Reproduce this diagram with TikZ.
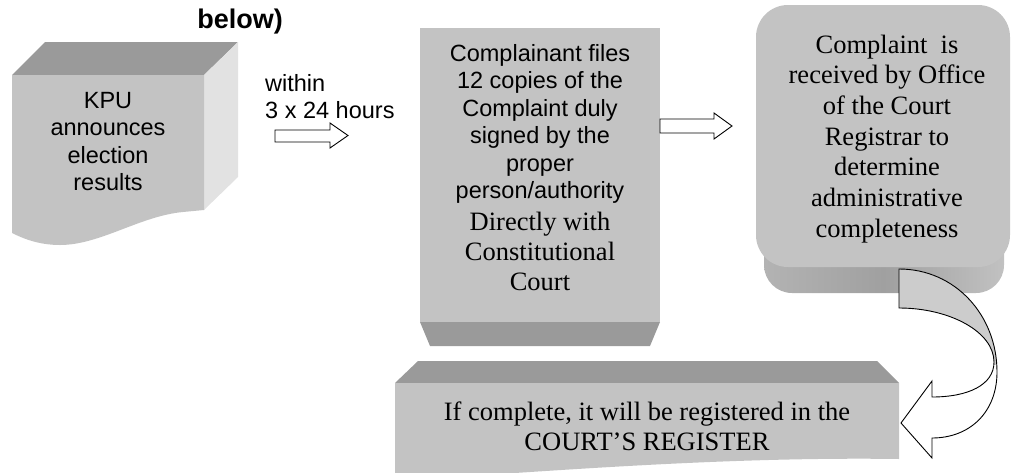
\documentclass[tikz,border=0pt]{standalone}
\usepackage{fontspec}
\setmainfont{Liberation Serif}
\newfontfamily\arialfam{Liberation Sans}
\definecolor{facegray}{HTML}{C3C3C3}
\definecolor{topgray}{HTML}{9A9A9A}
\definecolor{sidegray}{HTML}{E2E2E2}
\definecolor{bandgray}{HTML}{A0A0A0}
\definecolor{arrowgray}{HTML}{CCCCCC}
\newcommand\sanstxt{\arialfam\fontsize{23.5}{27.5}\selectfont}
\newcommand\sanssmall{\arialfam\fontsize{23.5}{27}\selectfont}
\newcommand\seriftxt{\fontsize{26.5}{30}\selectfont}
\newcommand\seriftall{\fontsize{26.5}{30.7}\selectfont}
\begin{document}
\begin{tikzpicture}[x=1pt,y=-1pt,
  face/.style={fill=facegray,draw=none},
  topface/.style={fill=topgray,draw=none},
  sideface/.style={fill=sidegray,draw=none},
  blockarrow/.style={draw=black,line width=0.9pt,fill=white,line join=miter},
  txt/.style={inner sep=0pt,anchor=base}]
\useasboundingbox (0,0) rectangle (1012,472);

% title fragment
\node[txt,font=\arialfam\bfseries\fontsize{27}{30}\selectfont] (title) at (240,28) {below)};

% KPU box
\fill[topface] (12,75) -- (45,42) -- (238,42) -- (204,75) -- cycle;
\fill[sideface] (204,75) -- (238,42) -- (238,177) -- (204,210) -- cycle;
\fill[face] (12,75) -- (204,75) -- (204,210) -- (183,212)
  .. controls (140,216) and (100,245) .. (60,245)
  .. controls (38,245) and (22,238) .. (12,233) -- cycle;
\node[txt,font=\sanstxt] (kpu) at (108,108)
  {\begin{tabular}[t]{@{}c@{}}KPU\\announces\\election\\results\end{tabular}};

% within label
\node[txt,anchor=base west,font=\sanssmall] (within) at (265,91)
  {\begin{tabular}[t]{@{}l@{}}within\\3 x 24 hours\end{tabular}};

% arrow 1
\draw[blockarrow] (275,130) -- (330,130) -- (330,123) -- (348,135.5) -- (330,148) -- (330,142) -- (275,142) -- cycle;

% middle box
\fill[face] (420,28) rectangle (660,322);
\fill[topface] (420,322) -- (660,322) -- (650,346) -- (430,346) -- cycle;
\node[txt,font=\sanstxt] (filesA) at (540,61)
  {\begin{tabular}[t]{@{}c@{}}Complainant files\\12 copies of the\\Complaint duly\\signed by the\\proper\\person/authority\end{tabular}};
\node[txt,font=\seriftxt] (filesB) at (540,230)
  {\begin{tabular}[t]{@{}c@{}}Directly with\\Constitutional\\Court\end{tabular}};

% arrow 2
\draw[blockarrow] (660,119) -- (714,119) -- (714,113) -- (732,126) -- (714,139) -- (714,133) -- (660,133) -- cycle;

% right box
\shade[rounded corners=28,left color=bandgray!80!white,right color=bandgray!65!white,middle color=bandgray]
  (764,40) rectangle (1004,293);
\fill[face,rounded corners=32] (756,5) rectangle (1010,267);
\node[txt,font=\seriftall] (recv) at (887,53)
  {\begin{tabular}[t]{@{}c@{}}Complaint\ \ is\\received by Office\\of the Court\\Registrar to\\determine\\administrative\\completeness\end{tabular}};

% bottom box
\fill[topface] (395,383) -- (418,361) -- (877,361) -- (899,383) -- cycle;
\fill[face] (395,383) -- (899,383) -- (899,459)
  .. controls (760,457) and (620,466) .. (500,474) -- (395,474) -- cycle;
\node[txt,font=\seriftxt] (reg) at (647,420)
  {\begin{tabular}[t]{@{}c@{}}If complete, it will be registered in the\\COURT’S REGISTER\end{tabular}};

% curved arrow
\def\curvedarrow{(899,269) .. controls (955,269) and (997,315) .. (997,372)
  .. controls (997,412) and (970,438) .. (932,438) -- (932,458) -- (901,423)
  -- (932,381) -- (932,397) .. controls (968,397) and (994,385) .. (994,362)
  .. controls (994,332) and (950,308) .. (899,308) -- cycle}
\fill[white] \curvedarrow;
\begin{scope}
  \clip (880,260) rectangle (1012,364);
  \fill[arrowgray] \curvedarrow;
\end{scope}
\draw[line width=0.9pt,line join=miter] \curvedarrow;
\end{tikzpicture}
\end{document}
